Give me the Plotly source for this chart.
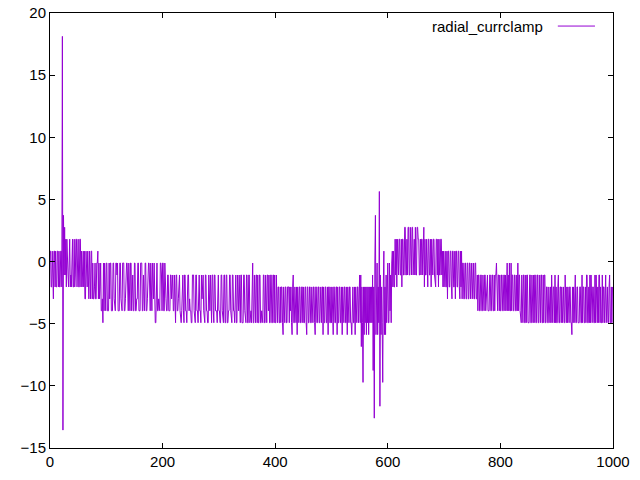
import numpy as np
import plotly.graph_objects as go

# Quantized signal levels (value of each code letter)
LEVELS = {
    't': 18.12, 'u': 5.64, 'A': 3.72, 'B': 2.76, 'C': 1.80, 'D': 0.84,
    'E': -0.12, 'F': -1.08, 'G': -2.04, 'H': -3.00, 'I': -3.96, 'J': -4.92,
    'K': -5.88, 'L': -6.84, 'N': -8.76, 'O': -9.72, 'Q': -11.64, 'R': -12.60,
    'S': -13.56,
}

# Samples, 50 samples per row (coded with LEVELS)
SAMPLES = [
    "DDGGDGHDDG DGGDDGDGGD DGtSAFBFCG CFFGCCGFGC CGGCGFCCGC",
    "CGGCCGDGDD GDHHDGGDGH DGHDDHEHHG EHHEEDHEHG EIIHJEIEHI",
    "EEIIIEHEEI IIEEHIIEEF EIIIEEHIIE EEIIHEEEII EIIEEIFFII",
    "EEIIHHEEII IEEEIIFIIE EIIHEEEIIE IIEHHEIJJE EIIHIIEEFI",
    "EEIIEHHIIF FIIIFFHFFI IFJJFFIIHF FIJJIFFIJF FIIJFFFIHI",
    "IJJFFFIJJF FIIJFFIIJF HFFIJJFFII JJFIIFJJFF IJFFIIIJFF",
    "IIJJFFIJJF FJJFFJJIIF FIJJFFIIJF FJJFIIFJJF FJJJFFIJJF",
    "FJJFFJIIJF EJJFJJFFJF JJFFJJIJJF FJJFJJFFIF JJFFJJFFJF",
    "JJFJJGGJJG JGGJKGJJGG JJGGGJGIGJ KGFJJGJJGK GJJGGJJGGJ",
    "GJJGGJKGGJ JGGJJGJJGG JKGGJJGGJJ GJJGGKGJJG GJJGKGGJJG",
    "JGJKGGJJGG KGJJGGJJGK GJJGGJJGKG JJGGJJKGGJ JGKGJJGGJG",
    "FJFLGJOGKG JGKGJGKGJG JGJFNGREAK GEKGJuQFKG JOGDKGKFJG",
    "EJJEIFJEDG DGGCFCGCFF CCFFCGCCFF BBFFCFBBFF BFFBBFCCFB",
    "FFBBCCFFCF CCFBBGCFFC GGCCFFCGCF FCCFGGCCFC GCFFCCFDGD",
    "GDDGGDHDDG GDDGHDDGGD HDDGGDDGHD GDHEEHHEEH HEEHHEEHEE",
    "HEEHHEEHHF IFFIIFFIIF IIFFIHFFII IFFIIFFIIF IFFEIIFFIF",
    "IIFFIIFFIF IEEIFIEIIE IFFIIFFIIF IEIFFIJJFJ JFFJJFJFFJ",
    "JJFFJJFJJF JFFJJFFJJF JJFFJJFJFF JJGGJJGJJG JFJJGGJFJG",
    "JJGFJJGGJG JGGJJFJJGJ GJJGGJJKGJ GJGFJJGGJJ JGGJJFJGGJ",
    "JGJFFJJGJF JFJJGGJJFJ FJJGJFFJGJ JFJGGJFFJG GJJGFJJGJG",
]

SERIES_NAME = "radial_currclamp"
X_TICKS = [0, 200, 400, 600, 800, 1000]
Y_TICKS = [-15, -10, -5, 0, 5, 10, 15, 20]

codes = "".join(row.replace(" ", "") for row in SAMPLES)
y = [LEVELS[c] for c in codes]
x = list(range(len(y)))

fig = go.Figure()
fig.add_trace(go.Scatter(
    x=x, y=y, mode="lines", name=SERIES_NAME,
    line=dict(color="#9400D3", width=1),
    showlegend=False,
))

font = dict(family="Liberation Sans, Arial, sans-serif", size=15, color="black")
axis_common = dict(
    showgrid=False, zeroline=False, showline=True, linecolor="black",
    linewidth=1, mirror="ticks", ticks="inside", ticklen=5, tickwidth=1,
    tickcolor="black", tickfont=font,
)
fig.update_xaxes(range=[0, 1000], tickvals=X_TICKS, automargin=False, **axis_common)
fig.update_yaxes(range=[-15, 20], tickvals=Y_TICKS, automargin=False, **axis_common)

# gnuplot-style key: text then line sample, top right
fig.add_annotation(
    xref="paper", yref="paper", x=0.879, y=0.970, text=SERIES_NAME,
    showarrow=False, xanchor="right", yanchor="middle", font=font,
)
fig.add_shape(
    type="line", xref="paper", yref="paper", x0=0.902, x1=0.968,
    y0=0.970, y1=0.970, line=dict(color="#9400D3", width=1),
)

fig.update_layout(
    width=640, height=480,
    margin=dict(l=50, r=27, t=13, b=32),
    paper_bgcolor="white", plot_bgcolor="white",
    font=font,
)

fig.write_html(
    "out.html",
    config={"displayModeBar": False},
    post_script="document.body.style.margin='0';document.body.style.overflow='hidden';",
)
